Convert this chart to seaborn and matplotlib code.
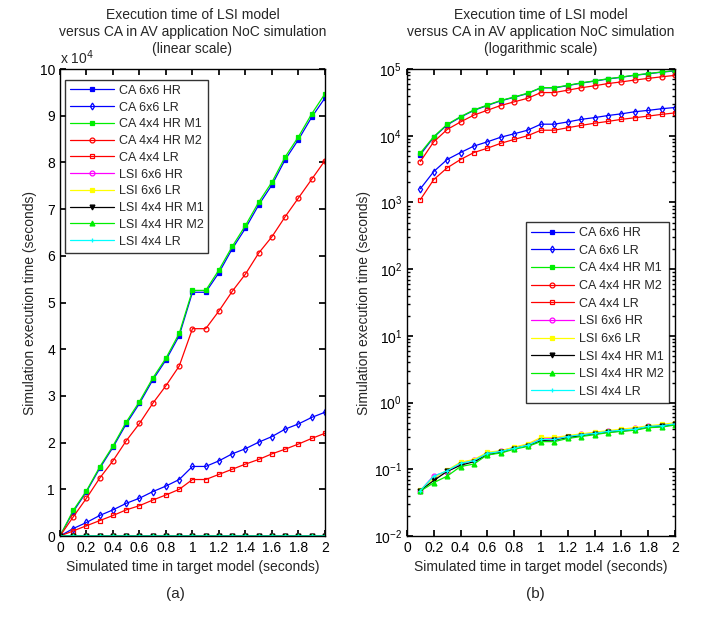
import numpy as np
import pandas as pd
import matplotlib
matplotlib.use("Agg")
import matplotlib.pyplot as plt
import seaborn as sns
from matplotlib.ticker import FuncFormatter, FixedLocator, LogLocator, NullFormatter

sns.set_theme(style="ticks")
plt.rcParams['font.family'] = ['Liberation Sans', 'DejaVu Sans']
plt.rcParams['xtick.direction'] = 'in'
plt.rcParams['ytick.direction'] = 'in'

# simulated time (seconds)
sim_time = [0.0, 0.1, 0.2, 0.3, 0.4, 0.5, 0.6, 0.7, 0.8, 0.9, 1.0,
            1.1, 1.2, 1.3, 1.4, 1.5, 1.6, 1.7, 1.8, 1.9, 2.0]

# execution times (seconds)
ca_6x6_hr = [0, 5200, 9500, 14500, 19000, 24000, 28400, 33400, 37700, 42900, 52200,
             52200, 56400, 61500, 65900, 70900, 75200, 80600, 84900, 89700, 93800]
ca_6x6_lr = [0, 1600, 2900, 4400, 5600, 7000, 8100, 9500, 10700, 12100, 14900,
             14900, 16100, 17600, 18700, 20100, 21300, 22900, 24000, 25400, 26500]
ca_4x4_hr_m1 = [0, 5500, 9700, 14800, 19300, 24400, 28800, 33800, 38100, 43400, 52600,
                52600, 57000, 62000, 66500, 71500, 75800, 81200, 85500, 90400, 94700]
ca_4x4_hr_m2 = [0, 4100, 8100, 12400, 16100, 20400, 24100, 28400, 32200, 36400, 44400,
                44400, 48200, 52400, 56100, 60600, 64100, 68400, 72400, 76400, 80400]
ca_4x4_lr = [0, 1100, 2200, 3300, 4400, 5600, 6500, 7700, 8800, 10000, 12100,
             12100, 13200, 14300, 15400, 16400, 17600, 18600, 19700, 20900, 22000]
lsi_6x6_hr = [0, 0.048, 0.080, 0.092, 0.120, 0.140, 0.170, 0.190, 0.210, 0.235, 0.285,
              0.290, 0.310, 0.335, 0.350, 0.370, 0.390, 0.410, 0.440, 0.455, 0.480]
lsi_6x6_lr = [0, 0.049, 0.074, 0.097, 0.128, 0.140, 0.180, 0.190, 0.215, 0.240, 0.300,
              0.300, 0.320, 0.340, 0.360, 0.380, 0.400, 0.420, 0.450, 0.470, 0.500]
lsi_4x4_hr_m1 = [0, 0.048, 0.068, 0.093, 0.115, 0.130, 0.165, 0.180, 0.205, 0.225, 0.270,
                 0.275, 0.300, 0.320, 0.340, 0.360, 0.375, 0.390, 0.430, 0.440, 0.470]
lsi_4x4_hr_m2 = [0, 0.047, 0.063, 0.079, 0.110, 0.120, 0.165, 0.175, 0.200, 0.220, 0.260,
                 0.260, 0.290, 0.310, 0.330, 0.355, 0.370, 0.385, 0.420, 0.430, 0.460]
lsi_4x4_lr = [0, 0.048, 0.079, 0.095, 0.123, 0.135, 0.174, 0.185, 0.206, 0.230, 0.280,
              0.280, 0.310, 0.330, 0.345, 0.370, 0.385, 0.400, 0.440, 0.450, 0.480]

# label, values, color, marker, filled
series = [
    ('CA 6x6 HR', ca_6x6_hr, '#0000ff', 's', True),
    ('CA 6x6 LR', ca_6x6_lr, '#0000ff', 'd', False),
    ('CA 4x4 HR M1', ca_4x4_hr_m1, '#00ee00', 's', True),
    ('CA 4x4 HR M2', ca_4x4_hr_m2, '#ff0000', 'o', False),
    ('CA 4x4 LR', ca_4x4_lr, '#ff0000', 's', False),
    ('LSI 6x6 HR', lsi_6x6_hr, '#ff00ff', 'o', False),
    ('LSI 6x6 LR', lsi_6x6_lr, '#ffff00', 's', True),
    ('LSI 4x4 HR M1', lsi_4x4_hr_m1, '#000000', 'v', True),
    ('LSI 4x4 HR M2', lsi_4x4_hr_m2, '#00ee00', '^', True),
    ('LSI 4x4 LR', lsi_4x4_lr, '#00ffff', '+', True),
]

title_main = 'Execution time of LSI model\nversus CA in AV application NoC simulation'

fig = plt.figure(figsize=(7.04, 6.27), dpi=100)
ax1 = fig.add_axes([0.0852, 0.1451, 0.3764, 0.7448])
ax2 = fig.add_axes([0.578, 0.1451, 0.3807, 0.7448])

df = pd.DataFrame({'t': sim_time})
for name, vals, col, mk, filled in series:
    df[name] = vals

ax2.set_yscale('log')
df_log = df[df['t'] > 0]

for ax, data in [(ax1, df), (ax2, df_log)]:
    for name, vals, col, mk, filled in series:
        sns.lineplot(data=data, x='t', y=name, ax=ax, color=col, marker=mk,
                     markersize=3.5, linewidth=0.9, label=name,
                     markerfacecolor=col if filled else 'none',
                     markeredgecolor=col, markeredgewidth=0.9)

xt = [0, 0.2, 0.4, 0.6, 0.8, 1.0, 1.2, 1.4, 1.6, 1.8, 2.0]
for ax, scale_txt in [(ax1, '(linear scale)'), (ax2, '(logarithmic scale)')]:
    ax.set_xlim(0, 2)
    ax.xaxis.set_major_locator(FixedLocator(xt))
    ax.xaxis.set_major_formatter(FuncFormatter(lambda v, p: f"{v:g}"))
    ax.tick_params(axis='both', which='both', top=True, right=True, labelsize=10,
                   colors='black', length=4)
    ax.tick_params(which='minor', length=2)
    ax.set_xlabel('Simulated time in target model (seconds)', fontsize=10)
    ax.set_ylabel('Simulation execution time (seconds)', fontsize=10, labelpad=2)
    for sp in ax.spines.values():
        sp.set_linewidth(1.0)
        sp.set_color('black')
    ax.set_title(title_main, fontsize=10, pad=24)
    ax.annotate(scale_txt, xy=(0.5, 1.0), xycoords='axes fraction', xytext=(0, 9.5),
                textcoords='offset points', ha='center', va='bottom', fontsize=10)

ax1.set_ylim(0, 100000)
ax1.yaxis.set_major_locator(FixedLocator(np.arange(0, 100001, 10000)))
ax1.yaxis.set_major_formatter(FuncFormatter(lambda v, p: f"{v/1e4:g}"))
ax1.text(0.0, 1.004, r'x 10$^4$', transform=ax1.transAxes, fontsize=10, ha='left', va='bottom')

ax2.set_ylim(1e-2, 1e5)
ax2.yaxis.set_major_locator(LogLocator(base=10, numticks=10))
ax2.yaxis.set_minor_locator(LogLocator(base=10, subs=np.arange(2, 10), numticks=20))
ax2.yaxis.set_minor_formatter(NullFormatter())

leg_kw = dict(fontsize=9, frameon=True, fancybox=False, edgecolor='black',
              handlelength=3.5, borderpad=0.4, handletextpad=0.4, borderaxespad=0)
l1 = ax1.legend(loc='upper left', bbox_to_anchor=(0.018, 0.977), labelspacing=0.38, **leg_kw)
l2 = ax2.legend(loc='upper right', bbox_to_anchor=(0.978, 0.672), labelspacing=0.45, **leg_kw)
for lg in (l1, l2):
    lg.get_frame().set_linewidth(1.0)

fig.text(0.249, 0.047, '(a)', fontsize=11, ha='center')
fig.text(0.760, 0.047, '(b)', fontsize=11, ha='center')

fig.savefig('out.png', dpi=100, facecolor='white')
